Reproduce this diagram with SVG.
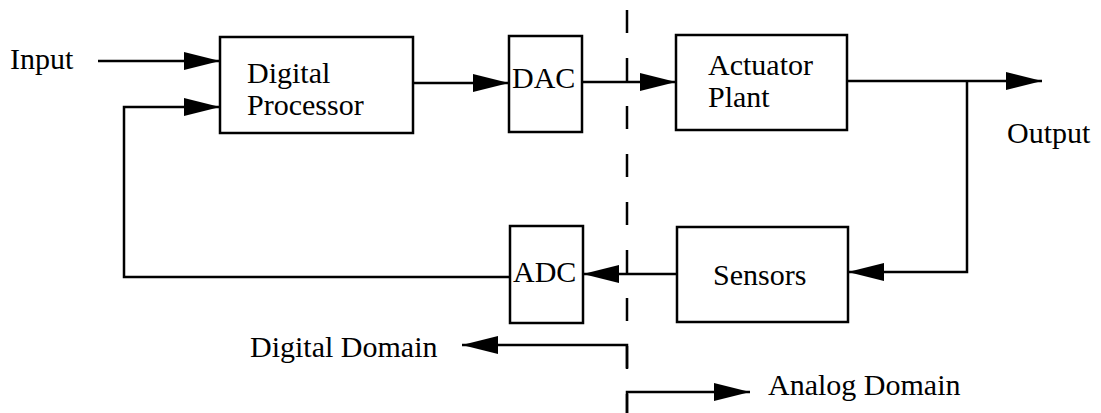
<svg xmlns="http://www.w3.org/2000/svg" width="1101" height="413" viewBox="0 0 1101 413" font-family="Liberation Serif, Times New Roman, serif" font-size="30">
<style>
.box{fill:#fff;stroke:#000;stroke-width:2.5}
.arr{fill:none;stroke:#000;stroke-width:2.5;marker-end:url(#ah)}
.dash{fill:none;stroke:#000;stroke-width:2.5;stroke-dasharray:23 25}
.t{font-family:'Liberation Serif',serif;font-size:30px;fill:#000}
</style>
<defs>
<marker id="ah" markerUnits="userSpaceOnUse" markerWidth="37" markerHeight="20" refX="36" refY="9.5" orient="auto">
<path d="M0,0.5 L36,9.5 L0,18.5 z" fill="#000"/>
</marker>
</defs>
<rect width="1101" height="413" fill="#fff"/>
<g id="connectors">
<path class="arr" d="M98,61 H220"/>
<path class="arr" d="M510,277 H124 V107 H220"/>
<path class="arr" d="M413,83 H509"/>
<path class="arr" d="M582,82 H676"/>
<path class="arr" d="M847,81 H1042"/>
<path class="arr" d="M967,81 V272 H848"/>
<path class="arr" d="M677,274 H583"/>
<path class="dash" d="M627,10 V413"/>
<path class="arr" d="M627,368 V345 H462"/>
<path class="arr" d="M627,413 V392 H750"/>
</g>
<g id="input"><text class="t" x="10" y="69">Input</text></g>
<g id="digital-processor">
<rect class="box" x="220" y="37" width="193" height="96"/>
<text class="t" x="247" y="83">Digital</text>
<text class="t" x="247" y="115">Processor</text>
</g>
<g id="dac">
<rect class="box" x="509" y="36" width="73" height="96"/>
<text class="t" x="512" y="88">DAC</text>
</g>
<g id="actuator-plant">
<rect class="box" x="676" y="35" width="171" height="95"/>
<text class="t" x="708" y="75">Actuator</text>
<text class="t" x="708" y="107">Plant</text>
</g>
<g id="output"><text class="t" x="1007" y="143">Output</text></g>
<g id="sensors">
<rect class="box" x="677" y="227" width="171" height="95"/>
<text class="t" x="713" y="285">Sensors</text>
</g>
<g id="adc">
<rect class="box" x="510" y="226" width="73" height="97"/>
<text class="t" x="513" y="282">ADC</text>
</g>
<g id="digital-domain"><text class="t" x="250" y="357">Digital Domain</text></g>
<g id="analog-domain"><text class="t" x="768" y="395">Analog Domain</text></g>
</svg>
